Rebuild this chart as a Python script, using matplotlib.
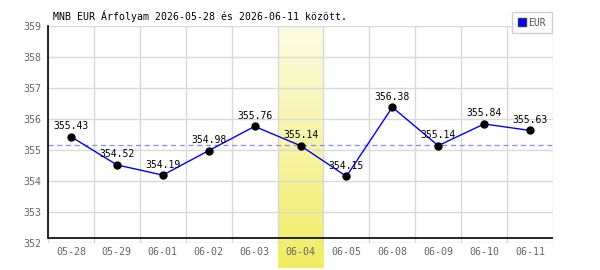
#!/usr/bin/env python3

import matplotlib.pyplot as plt
import numpy as np
from matplotlib.lines import Line2D

dates = ["05-28", "05-29", "06-01", "06-02", "06-03", "06-04",
         "06-05", "06-08", "06-09", "06-10", "06-11"]
eur = [355.43, 354.52, 354.19, 354.98, 355.76, 355.14,
       354.15, 356.38, 355.14, 355.84, 355.63]
avg_line = 355.17
highlight = "06-04"
title = "MNB EUR Árfolyam 2026-05-28 és 2026-06-11 között."

plt.rcParams["font.family"] = ["DejaVu Sans Mono"]
plt.rcParams["font.size"] = 7

fig = plt.figure(figsize=(6, 2.7), dpi=100)
ax = fig.add_axes([48 / 600, 27 / 270, 505 / 600, 217 / 270])

x = np.arange(len(dates))

# highlighted day: vertical yellow gradient running below the axis
hi = dates.index(highlight)
grad = np.linspace(0, 1, 256).reshape(-1, 1)
top = np.array([253, 252, 228]) / 255
bot = np.array([240, 237, 98]) / 255
img = top + (bot - top) * grad[..., None]
ax.imshow(img.reshape(256, 1, 3), extent=(hi - 0.5, hi + 0.5, 351.2, 359),
          aspect="auto", origin="upper", clip_on=False, zorder=0)
ax.set_xlim(-0.5, len(dates) - 0.5)
ax.set_ylim(352, 359)

ax.set_xticks(x)
ax.set_xticklabels(dates)
ax.set_xticks(np.arange(len(dates) + 1) - 0.5, minor=True)
ax.grid(False)
ax.grid(which="minor", axis="x", color="#d9d9d9", lw=1)
ax.grid(which="major", axis="y", color="#d9d9d9", lw=1)
ax.set_axisbelow(True)
ax.tick_params(which="both", length=0, colors="#666666", labelsize=7.2)
ax.tick_params(axis="x", pad=3)
ax.tick_params(axis="y", pad=5)

for s in ["top", "right", "bottom"]:
    ax.spines[s].set_visible(False)
ax.spines["left"].set_bounds(352.17, 359)
ax.spines["left"].set_linewidth(1.2)
ax.axhline(352.17, color="black", lw=1.2, zorder=3)
ax.axhline(avg_line, color="#8888ff", lw=0.9, ls=(0, (4, 3)), zorder=2)

ax.plot(x, eur, color="blue", lw=1, zorder=4)
ax.plot(x, eur, "o", color="black", ms=5, zorder=5)
for xi, v in zip(x, eur):
    ax.annotate(f"{v:.2f}", (xi, v), xytext=(0, 4), textcoords="offset points",
                ha="center", va="bottom", fontsize=7, color="black", zorder=6)

fig.text(53 / 600, 1 - 16 / 270, title, ha="left", va="center",
         fontsize=7.1, color="black")

handle = Line2D([], [], marker="s", ls="none", ms=6, markerfacecolor="blue",
                markeredgecolor="#333366")
leg = ax.legend([handle], ["EUR"], loc="upper right", bbox_to_anchor=(0.998, 1.066),
                frameon=True, fancybox=False, framealpha=1, edgecolor="#d0d0d0",
                fontsize=7, handlelength=0.8, handletextpad=0.3,
                borderpad=0.6, borderaxespad=0)
for t in leg.get_texts():
    t.set_color("#555555")
leg.set_zorder(10)

plt.savefig("out.png", dpi=100)
